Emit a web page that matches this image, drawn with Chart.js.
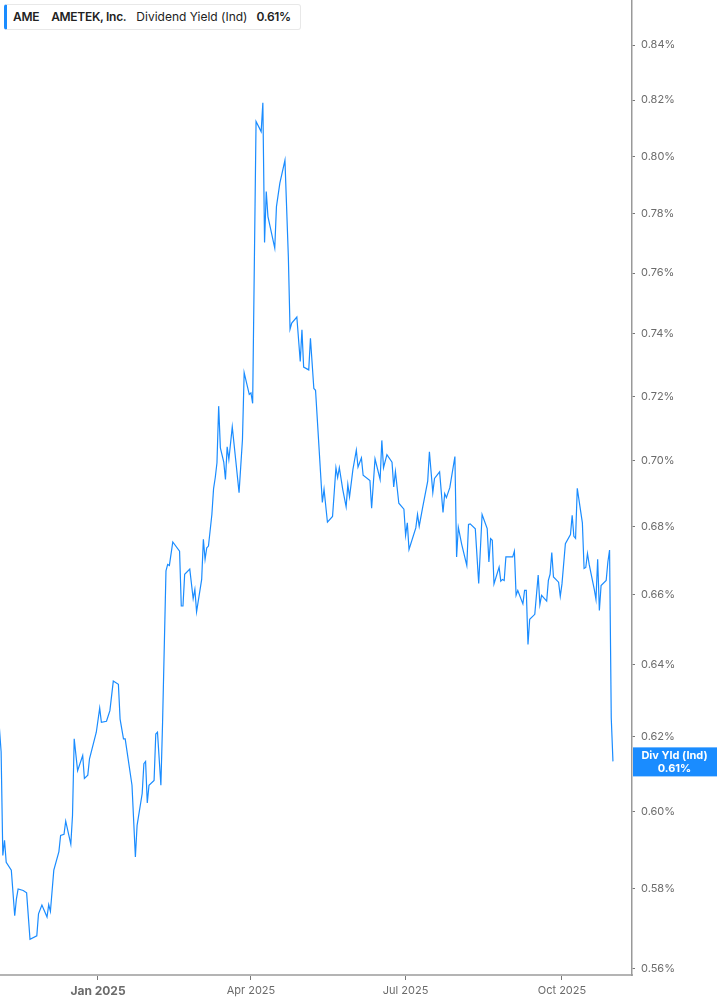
<!DOCTYPE html>
<html>
<head>
<meta charset="utf-8">
<script src="https://cdn.jsdelivr.net/npm/chart.js@4.4.0/dist/chart.umd.min.js"></script>
<style>
  html, body { margin: 0; padding: 0; background: #fff; }
  #wrap { position: relative; width: 717px; height: 1005px; }
  #header {
    position: absolute; left: 4px; top: 4px; height: 26px; width: 297px;
    box-sizing: border-box; border: 1px solid #e8e8e8; border-left: 3px solid #1a8cff;
    border-radius: 3px; background: #fff;
    font-family: Inter, "Noto Sans", sans-serif; font-size: 12px; color: #222;
    line-height: 24px; padding-left: 6px; white-space: nowrap;
  }
  #header b { font-weight: 600; letter-spacing: -0.3px; }
  #header span { margin-right: 10px; }
</style>
</head>
<body>
<div id="wrap">
  <canvas id="yieldChart" width="717" height="1005"></canvas>
  <div id="header"><span style="margin-right:12px"><b>AME</b></span><span><b>AMETEK, Inc.</b></span><span style="margin-right:9px">Dividend Yield (Ind)</span><span><b>0.61%</b></span></div>
</div>
<script>
const dates = [
  '2024-11-04','2024-11-05','2024-11-06','2024-11-07','2024-11-08','2024-11-11','2024-11-13','2024-11-14','2024-11-15','2024-11-18',
  '2024-11-20','2024-11-22','2024-11-26','2024-11-27','2024-11-29','2024-12-02','2024-12-03','2024-12-04','2024-12-06','2024-12-09',
  '2024-12-10','2024-12-12','2024-12-13','2024-12-16','2024-12-17','2024-12-18','2024-12-20','2024-12-23','2024-12-24','2024-12-26',
  '2024-12-27','2024-12-31','2025-01-02','2025-01-03','2025-01-06','2025-01-08','2025-01-10','2025-01-13','2025-01-14','2025-01-16',
  '2025-01-17','2025-01-21','2025-01-23','2025-01-24','2025-01-27','2025-01-28','2025-01-29','2025-01-30','2025-01-31','2025-02-03',
  '2025-02-04','2025-02-05','2025-02-07','2025-02-08','2025-02-10','2025-02-11','2025-02-12','2025-02-14','2025-02-18','2025-02-19',
  '2025-02-20','2025-02-21','2025-02-24','2025-02-26','2025-02-27','2025-02-28','2025-03-03','2025-03-04','2025-03-05','2025-03-06',
  '2025-03-07','2025-03-09','2025-03-10','2025-03-11','2025-03-12','2025-03-13','2025-03-14','2025-03-16','2025-03-17','2025-03-18',
  '2025-03-19','2025-03-21','2025-03-23','2025-03-25','2025-03-27','2025-03-28','2025-03-31','2025-04-01','2025-04-02','2025-04-04',
  '2025-04-07','2025-04-08','2025-04-09','2025-04-10','2025-04-11','2025-04-15','2025-04-16','2025-04-18','2025-04-21','2025-04-23',
  '2025-04-24','2025-04-25','2025-04-28','2025-04-30','2025-05-01','2025-05-02','2025-05-05','2025-05-06','2025-05-08','2025-05-09',
  '2025-05-13','2025-05-14','2025-05-16','2025-05-19','2025-05-21','2025-05-22','2025-05-23','2025-05-25','2025-05-27','2025-05-28',
  '2025-05-29','2025-05-31','2025-06-02','2025-06-03','2025-06-05','2025-06-06','2025-06-10','2025-06-11','2025-06-13','2025-06-16',
  '2025-06-17','2025-06-18','2025-06-20','2025-06-23','2025-06-24','2025-06-25','2025-06-27','2025-06-30','2025-07-01','2025-07-02',
  '2025-07-03','2025-07-07','2025-07-08','2025-07-09','2025-07-11','2025-07-14','2025-07-15','2025-07-17','2025-07-18','2025-07-21',
  '2025-07-23','2025-07-24','2025-07-25','2025-07-27','2025-07-30','2025-07-31','2025-08-01','2025-08-03','2025-08-06','2025-08-07',
  '2025-08-08','2025-08-11','2025-08-13','2025-08-15','2025-08-18','2025-08-19','2025-08-20','2025-08-21','2025-08-22','2025-08-25',
  '2025-08-26','2025-08-27','2025-08-28','2025-08-29','2025-09-02','2025-09-03','2025-09-04','2025-09-05','2025-09-08','2025-09-09',
  '2025-09-10','2025-09-11','2025-09-12','2025-09-15','2025-09-17','2025-09-18','2025-09-19','2025-09-22','2025-09-23','2025-09-24',
  '2025-09-25','2025-09-26','2025-09-29','2025-09-30','2025-10-01','2025-10-03','2025-10-06','2025-10-07','2025-10-08','2025-10-09',
  '2025-10-10','2025-10-13','2025-10-14','2025-10-15','2025-10-16','2025-10-17','2025-10-20','2025-10-21','2025-10-22','2025-10-23',
  '2025-10-24','2025-10-27','2025-10-28','2025-10-29','2025-10-30','2025-10-31'
];
const yields = [
  0.6224,0.6160,0.5886,0.5925,0.5868,0.5848,0.5732,0.5775,0.5800,0.5796,
  0.5790,0.5673,0.5682,0.5737,0.5759,0.5729,0.5760,0.5743,0.5848,0.5896,
  0.5938,0.5941,0.5975,0.5915,0.5990,0.6195,0.6109,0.6150,0.6088,0.6097,
  0.6141,0.6213,0.6279,0.6240,0.6243,0.6272,0.6354,0.6345,0.6249,0.6195,
  0.6195,0.6070,0.5882,0.5964,0.6048,0.6128,0.6134,0.6023,0.6070,0.6083,
  0.6208,0.6213,0.6070,0.6240,0.6669,0.6688,0.6685,0.6754,0.6727,0.6567,
  0.6567,0.6659,0.6674,0.6588,0.6615,0.6550,0.6644,0.6762,0.6703,0.6737,
  0.6742,0.6836,0.6914,0.6948,0.6993,0.7169,0.7039,0.6995,0.6942,0.7042,
  0.7003,0.7104,0.7003,0.6902,0.7065,0.7275,0.7206,0.7211,0.7178,0.8123,
  0.8087,0.8190,0.7703,0.7877,0.7791,0.7684,0.7825,0.7906,0.7986,0.7655,
  0.7415,0.7435,0.7455,0.7311,0.7413,0.7293,0.7284,0.7386,0.7225,0.7219,
  0.6872,0.6912,0.6813,0.6830,0.6978,0.6948,0.6978,0.6912,0.6859,0.6927,
  0.6889,0.6973,0.7032,0.6980,0.7008,0.6955,0.6939,0.6855,0.7005,0.6942,
  0.7062,0.6978,0.7018,0.6995,0.6919,0.6966,0.6870,0.6852,0.6774,0.6811,
  0.6732,0.6796,0.6836,0.6801,0.6857,0.6937,0.7027,0.6902,0.6945,0.6965,
  0.6842,0.6899,0.6887,0.6917,0.7012,0.6710,0.6798,0.6747,0.6685,0.6806,
  0.6808,0.6793,0.6632,0.6836,0.6794,0.6695,0.6764,0.6759,0.6631,0.6680,
  0.6639,0.6644,0.6641,0.6710,0.6710,0.6727,0.6598,0.6612,0.6573,0.6612,
  0.6612,0.6457,0.6529,0.6543,0.6657,0.6571,0.6598,0.6581,0.6641,0.6659,
  0.6723,0.6651,0.6636,0.6595,0.6631,0.6749,0.6776,0.6834,0.6771,0.6765,
  0.6915,0.6811,0.6676,0.6679,0.6720,0.6688,0.6615,0.6586,0.6703,0.6554,
  0.6626,0.6641,0.6695,0.6730,0.6251,0.6134
];
const yTicks = [0.56, 0.58, 0.60, 0.62, 0.64, 0.66, 0.68, 0.70, 0.72, 0.74, 0.76, 0.78, 0.80, 0.82, 0.84];
const xTickDates = ['2025-01-01', '2025-04-01', '2025-07-01', '2025-10-01'];
const xTickLabels = ['Jan 2025', 'Apr 2025', 'Jul 2025', 'Oct 2025'];
const xStart = '2024-11-04';
const xEnd = '2025-11-11';
const lastLabel = 'Div Yld (Ind)';

const LINE = '#1a8cff';
const DAY = 86400000;
const origin = Date.UTC(2025, 0, 1);
const toDay = (s) => {
  const p = s.split('-').map(Number);
  return (Date.UTC(p[0], p[1] - 1, p[2]) - origin) / DAY;
};

const points = dates.map((d, i) => ({ x: toDay(d), y: yields[i] }));
const xTicks = xTickDates.map(toDay);

// blue tag with the latest value on the right axis
const lastValuePlugin = {
  id: 'lastValue',
  afterDraw(chart) {
    const c = chart.ctx;
    const area = chart.chartArea;
    const v = yields[yields.length - 1];
    const y = chart.scales.y.getPixelForValue(v);
    c.save();
    c.fillStyle = LINE;
    c.fillRect(area.right + 1, y - 14, chart.width - area.right - 1, 29);
    c.fillStyle = '#fff';
    c.textAlign = 'center';
    c.textBaseline = 'middle';
    c.font = 'bold 11px Inter, "Noto Sans", sans-serif';
    const cx = (area.right + chart.width) / 2;
    c.fillText(lastLabel, cx, y - 6);
    c.fillText(v.toFixed(2) + '%', cx, y + 7);
    c.restore();
  }
};

const ctx = document.getElementById('yieldChart').getContext('2d');
new Chart(ctx, {
  type: 'line',
  data: {
    datasets: [{
      label: 'Dividend Yield (Ind)',
      data: points,
      borderColor: LINE,
      borderWidth: 1.2,
      pointRadius: 0,
      tension: 0,
      fill: false
    }]
  },
  options: {
    responsive: false,
    animation: false,
    layout: { padding: 0 },
    plugins: {
      legend: { display: false },
      tooltip: { enabled: false }
    },
    scales: {
      x: {
        type: 'linear',
        min: toDay(xStart) + 0.34,
        max: toDay(xEnd) + 0.2,
        afterBuildTicks: (scale) => { scale.ticks = xTicks.map(v => ({ value: v })); },
        afterFit: (scale) => { scale.height = 30; scale.paddingLeft = 0; scale.paddingRight = 0; },
        border: { display: true, color: '#b4b4b4', width: 2 },
        grid: { drawOnChartArea: false, drawTicks: true, tickLength: 5, color: '#777' },
        ticks: {
          padding: 4,
          color: '#6b6b6b',
          autoSkip: false,
          maxRotation: 0,
          font: (c) => c.tick && c.tick.value === 0
            ? { family: 'Inter', size: 12, weight: 'bold' }
            : { family: 'Inter', size: 11 },
          callback: (v) => {
            const i = xTicks.indexOf(v);
            return i >= 0 ? xTickLabels[i] : '';
          }
        }
      },
      y: {
        type: 'logarithmic',
        position: 'right',
        min: 0.5585,
        max: 0.8568,
        afterBuildTicks: (scale) => { scale.ticks = yTicks.map(v => ({ value: v })); },
        afterFit: (scale) => { scale.width = 85; scale.paddingTop = 0; scale.paddingBottom = 0; },
        border: { display: true, color: '#999', width: 1.5 },
        grid: { drawOnChartArea: false, drawTicks: true, tickLength: 3, color: '#777' },
        ticks: {
          padding: 6,
          color: '#6b6b6b',
          font: { family: 'Inter', size: 11 },
          callback: (v) => Number(v).toFixed(2) + '%'
        }
      }
    }
  },
  plugins: [lastValuePlugin]
});
</script>
</body>
</html>
